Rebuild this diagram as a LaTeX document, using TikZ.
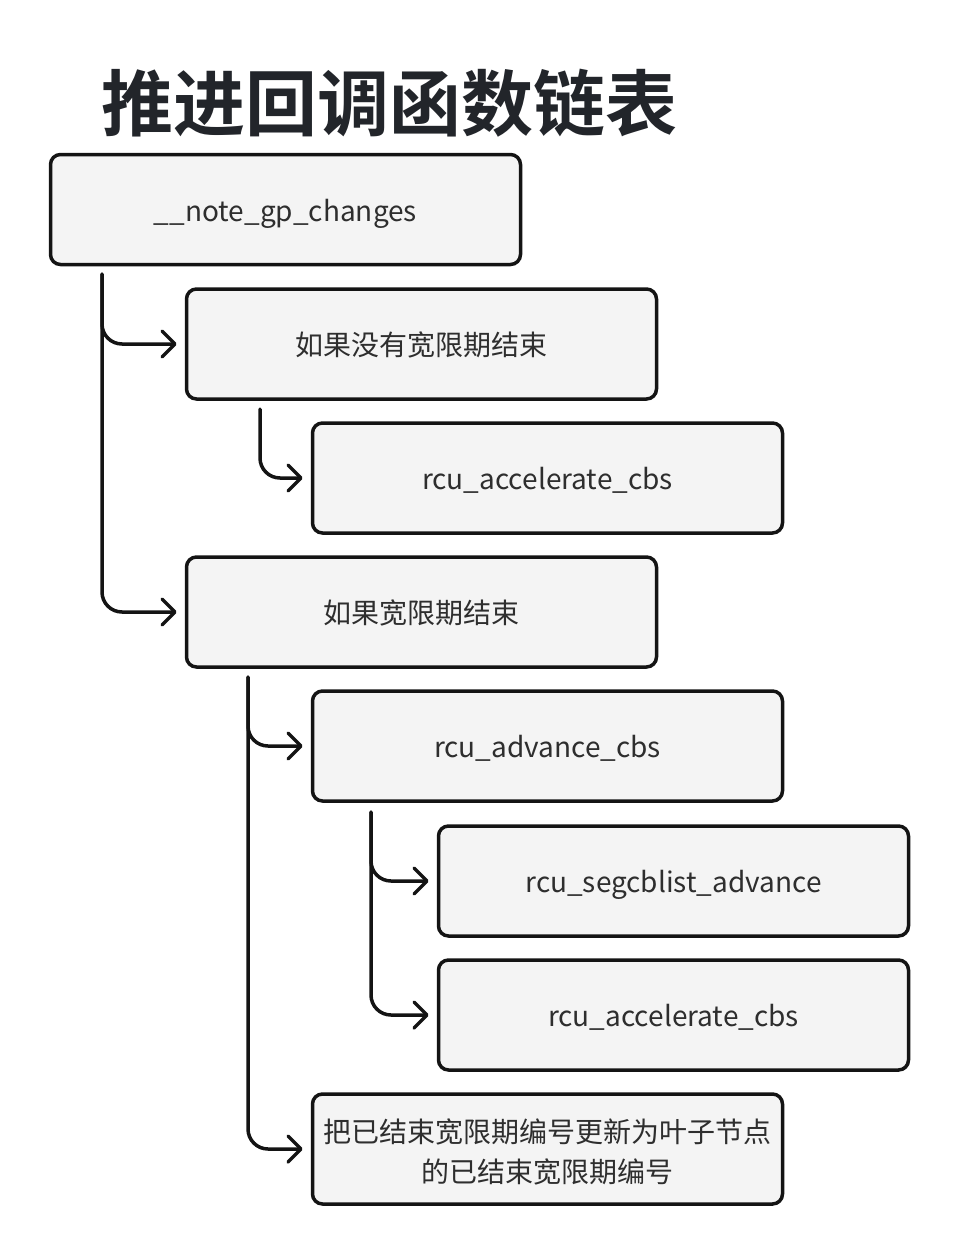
\documentclass[tikz,border=0pt]{standalone}
\usepackage{fontspec}
\setmainfont{Noto Sans CJK SC}
\newfontfamily\titlefont{Noto Sans CJK SC Bold}
\usetikzlibrary{arrows.meta}
\definecolor{boxfill}{HTML}{F4F4F4}
\definecolor{boxline}{HTML}{141414}
\definecolor{txt}{HTML}{2E2E2E}
\definecolor{ttl}{HTML}{22252A}
\tikzset{
  fbox/.style={draw=boxline, fill=boxfill, line width=3.5pt, rounded corners=10pt,
    minimum width=470pt, minimum height=110pt, inner sep=0pt, text=txt,
    font=\fontsize{28}{40}\selectfont, align=center},
  oneline/.style={text height=25pt, text depth=2pt},
  conn/.style={draw=boxline, line width=3.5pt, rounded corners=20pt, line cap=round, line join=round,
    -{Straight Barb[length=13pt,width=26pt,line width=3.5pt,line cap=round,line join=round]}}
}
\begin{document}
\begin{tikzpicture}[x=1pt,y=-1pt]
\useasboundingbox (0,0) rectangle (960,1256);
\node[text=ttl, font=\titlefont\fontsize{72}{80}\selectfont, inner sep=0pt] (title) at (389,103) {推进回调函数链表};
\node[fbox, oneline] (b1) at (285.5,209.5) {\_\_note\_gp\_changes};
\node[fbox, oneline] (b2) at (421.5,344) {如果没有宽限期结束};
\node[fbox, oneline] (b3) at (547.5,478) {rcu\_accelerate\_cbs};
\node[fbox, oneline] (b4) at (421.5,612) {如果宽限期结束};
\node[fbox, oneline] (b5) at (547.5,746) {rcu\_advance\_cbs};
\node[fbox, oneline] (b6) at (673.5,881) {rcu\_segcblist\_advance};
\node[fbox, oneline] (b7) at (673.5,1015) {rcu\_accelerate\_cbs};
\node[fbox] (b8) at (547.5,1149) {\rule{0pt}{30pt}把已结束宽限期编号更新为叶子节点\\的已结束宽限期编号};
\coordinate (s1) at (102,274);
\coordinate (s2) at (260,409);
\coordinate (s4) at (248,677);
\coordinate (s5) at (371,812);
\draw[conn] (s1) |- ([xshift=-8pt]b2.west);
\draw[conn] (s1) |- ([xshift=-8pt]b4.west);
\draw[conn] (s2) |- ([xshift=-8pt]b3.west);
\draw[conn] (s4) |- ([xshift=-8pt]b5.west);
\draw[conn] (s4) |- ([xshift=-8pt]b8.west);
\draw[conn] (s5) |- ([xshift=-8pt]b6.west);
\draw[conn] (s5) |- ([xshift=-8pt]b7.west);
\end{tikzpicture}
\end{document}
